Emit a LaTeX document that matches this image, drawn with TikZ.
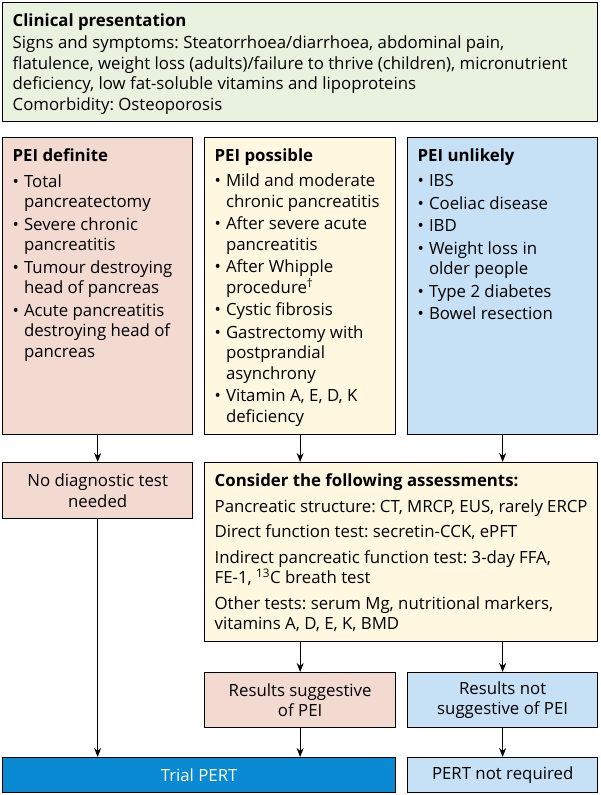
\documentclass[tikz,border=0pt]{standalone}
\usepackage{fontspec}
\setmainfont{Open Sans}
\usetikzlibrary{arrows.meta}

\newlength{\du}
\setlength{\du}{1pt}

\definecolor{presgreen}{RGB}{233,241,223}
\definecolor{defpink}{RGB}{242,218,208}
\definecolor{posyellow}{RGB}{255,247,223}
\definecolor{unlblue}{RGB}{198,224,245}
\definecolor{pertblue}{RGB}{10,138,210}

\frenchspacing
\newcommand{\itm}{\textbullet\hspace{0.3em}}
\newcommand{\cnt}{\hphantom{\textbullet\hspace{0.3em}}}
\newcommand{\boxtext}[3]{\parbox[t][#2\du][t]{#1\du}{\raggedright #3}}

\tikzset{
  panel/.style={draw=black, line width=1.3\du, anchor=north west, inner xsep=10\du, inner ysep=11\du, font=\fontsize{16.8}{20.5}\selectfont},
  tag/.style={draw=black, line width=1.3\du, anchor=north west, inner sep=0pt, align=center, font=\fontsize{16.8}{20.5}\selectfont},
  flow/.style={draw=black, line width=1.1\du, -{Stealth[length=9pt,width=7pt]}},
}

\begin{document}
\begin{tikzpicture}[x=1\du,y=-1\du]
\useasboundingbox (0,0) rectangle (600,795);

% top
\node[panel, fill=presgreen] (pres) at (2,2) {\boxtext{575}{97}{%
{\bfseries Clinical presentation}\\[2\du]
Signs and symptoms: Steatorrhoea/diarrhoea, abdominal pain,\\
flatulence, weight loss (adults)/failure to thrive (children), micronutrient\\
deficiency, low fat-soluble vitamins and lipoproteins\\
Comorbidity: Osteoporosis}};

% three columns
\node[panel, fill=defpink] (def) at (2,137) {\boxtext{170}{275}{%
{\bfseries PEI definite}\\[5\du]
\itm Total\\ \cnt pancreatectomy\\[2\du]
\itm Severe chronic\\ \cnt pancreatitis\\[2\du]
\itm Tumour destroying\\ \cnt head of pancreas\\[2\du]
\itm Acute pancreatitis\\ \cnt destroying head of\\ \cnt pancreas}};

\node[panel, fill=posyellow] (pos) at (204,137) {\boxtext{171}{275}{%
{\bfseries PEI possible}\\[5\du]
\itm Mild and moderate\\ \cnt chronic pancreatitis\\[2\du]
\itm After severe acute\\ \cnt pancreatitis\\[2\du]
\itm After Whipple\\ \cnt procedure\textsuperscript{\textdagger}\\[2\du]
\itm Cystic fibrosis\\[2\du]
\itm Gastrectomy with\\ \cnt postprandial\\ \cnt asynchrony\\[2\du]
\itm Vitamin A, E, D, K\\ \cnt deficiency}};

\node[panel, fill=unlblue] (unl) at (407,137) {\boxtext{170}{275}{%
{\bfseries PEI unlikely}\\[5\du]
\itm IBS\\[2\du]
\itm Coeliac disease\\[2\du]
\itm IBD\\[2\du]
\itm Weight loss in\\ \cnt older people\\[2\du]
\itm Type 2 diabetes\\[2\du]
\itm Bowel resection}};

% second row
\node[tag, fill=defpink, minimum width=190\du, minimum height=56\du] (nodx) at (2,462) {No diagnostic test\\needed};

\node[panel, fill=posyellow] (cons) at (204,462) {\boxtext{373}{157}{%
{\bfseries Consider the following assessments:}\\[5\du]
Pancreatic structure: CT, MRCP, EUS, rarely ERCP\\[5\du]
Direct function test: secretin-CCK, ePFT\\[5\du]
Indirect pancreatic function test: 3-day FFA,\\
FE-1, \textsuperscript{13}C breath test\\[5\du]
Other tests: serum Mg, nutritional markers,\\
vitamins A, D, E, K, BMD}};

\node[tag, fill=defpink, minimum width=191\du, minimum height=55\du] (sug) at (204,672) {Results suggestive\\of PEI};
\node[tag, fill=unlblue, minimum width=190\du, minimum height=55\du] (nsug) at (407,672) {Results not\\suggestive of PEI};

% bottom
\node[tag, fill=pertblue, text=white, minimum width=393\du, minimum height=35\du] (trial) at (2,757) {Trial PERT};
\node[tag, fill=unlblue, minimum width=190\du, minimum height=35\du] (notreq) at (407,757) {PERT not required};

\draw[flow] (def.south) -- (nodx.north);
\draw[flow] (pos.south) -- (pos.south |- cons.north);
\draw[flow] (unl.south) -- (unl.south |- cons.north);
\draw[flow] (cons.south -| sug.north) -- (sug.north);
\draw[flow] (cons.south -| nsug.north) -- (nsug.north);
\draw[flow] (nodx.south) -- (nodx.south |- trial.north);
\draw[flow] (sug.south) -- (sug.south |- trial.north);
\draw[flow] (nsug.south) -- (notreq.north);
\end{tikzpicture}
\end{document}
